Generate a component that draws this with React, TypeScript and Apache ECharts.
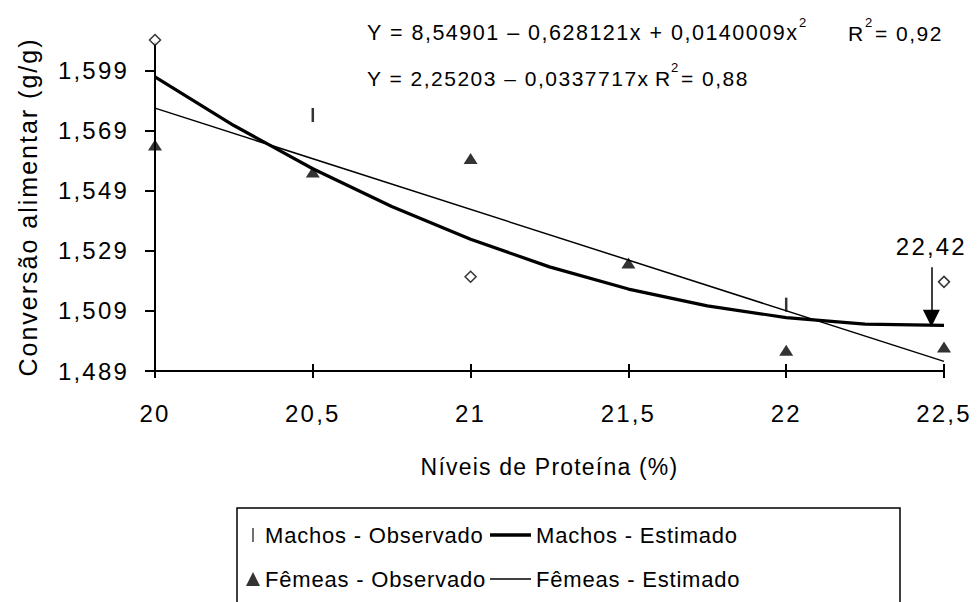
import { useEffect, useRef } from 'react';
import * as echarts from 'echarts';

const Y_TICK_VALUES = [1.489, 1.509, 1.529, 1.549, 1.569, 1.589];
const Y_TICK_LABELS = ['1,489', '1,509', '1,529', '1,549', '1,569', '1,599'];

const MACHOS_OBS_X = [20, 20.5, 21, 22, 22.5];
const MACHOS_OBS_Y = [1.5993, 1.5743, 1.5204, 1.5111, 1.5187];
const MACHOS_OBS_MARK = ['diamond', 'bar', 'diamond', 'bar', 'diamond'];

const FEMEAS_OBS_X = [20, 20.5, 21, 21.5, 22, 22.5];
const FEMEAS_OBS_Y = [1.5643, 1.5553, 1.5598, 1.525, 1.4959, 1.497];

const MACHOS_EST_X = [20, 20.25, 20.5, 20.75, 21, 21.25, 21.5, 21.75, 22, 22.25, 22.5];
const MACHOS_EST_Y = [1.587, 1.5708, 1.5564, 1.5438, 1.5329, 1.5237, 1.5163, 1.5107, 1.5068, 1.5046, 1.5042];

const FEMEAS_EST_X = [20, 22.5];
const FEMEAS_EST_Y = [1.5766, 1.4922];

const OPTIMUM_X = 22.46;
const OPTIMUM_Y_TOP = 1.5236;
const OPTIMUM_Y_TIP = 1.5066;
const OPTIMUM_LABEL = '22,42';

const SERIES_NAMES = ['Machos - Observado', 'Machos - Estimado', 'Fêmeas - Observado', 'Fêmeas - Estimado'];
const EQ1 = 'Y = 8,54901 – 0,628121x + 0,0140009x';
const EQ1_R2 = '= 0,92';
const EQ2 = 'Y = 2,25203 – 0,0337717x';
const EQ2_R2 = '= 0,88';
const X_NAME = 'Níveis de Proteína (%)';
const Y_NAME = 'Conversão alimentar (g/g)';

const FONT = '"Liberation Sans", Arial, sans-serif';
const BAR_SYMBOL = 'path://M0,0 L1,0 L1,10 L0,10 Z';

const CSS = `
#chart-root text { letter-spacing: 0px; }
#chart-root text[style*="24px"] { letter-spacing: 2.2px; }
#chart-root text[style*="21px"] { letter-spacing: 1.5px; }
#chart-root text[style*="21.5px"] { letter-spacing: 1.5px; }
#chart-root text[style*="22px"] { letter-spacing: 0.8px; }
#chart-root text[style*="23px"] { letter-spacing: 1.2px; }
#chart-root text[style*="25px"] { letter-spacing: 2px; }
`;

export default function App() {
  const ref = useRef<HTMLDivElement>(null);
  useEffect(() => {
    if (!ref.current) return;
    const chart = echarts.init(ref.current, undefined, { renderer: 'svg' });
    const fmtX = (v: number) => String(v).replace('.', ',');
    const fmtY = (v: number) => {
      let best = 0;
      Y_TICK_VALUES.forEach((t, i) => {
        if (Math.abs(t - v) < Math.abs(Y_TICK_VALUES[best] - v)) best = i;
      });
      return Y_TICK_LABELS[best];
    };
    const machosObs = MACHOS_OBS_X.map((x, i) => {
      if (MACHOS_OBS_MARK[i] === 'diamond') {
        return {
          value: [x, MACHOS_OBS_Y[i]],
          symbol: 'diamond',
          symbolSize: [11, 11],
          itemStyle: { color: '#fff', borderColor: '#000', borderWidth: 1.5 },
        };
      }
      return { value: [x, MACHOS_OBS_Y[i]] };
    });
    const baseX = {
      type: 'value' as const,
      min: 20,
      max: 22.5,
      interval: 0.5,
      splitLine: { show: false },
    };
    const legendText = { fontSize: 22, color: '#000', fontFamily: FONT };
    const t = (x: number, y: number, text: string, size: number) => ({
      type: 'text',
      x,
      y,
      silent: true,
      style: { text, font: `${size}px ${FONT}`, fill: '#000', verticalAlign: 'middle' },
    });
    chart.setOption({
      animation: false,
      textStyle: { fontFamily: FONT, color: '#000' },
      grid: { left: 155, right: 33, top: 43, bottom: 231 },
      xAxis: [
        {
          ...baseX,
          name: X_NAME,
          nameLocation: 'middle',
          nameGap: 84,
          nameTextStyle: { fontSize: 23, color: '#000', fontFamily: FONT },
          axisLine: { show: true, onZero: false, lineStyle: { color: '#000', width: 2 } },
          axisTick: { show: true, length: 7, lineStyle: { color: '#000', width: 2 } },
          axisLabel: { show: true, formatter: fmtX, fontSize: 24, color: '#000', margin: 30, fontFamily: FONT },
        },
        {
          ...baseX,
          position: 'bottom',
          axisLine: { show: false },
          axisTick: { show: true, inside: true, length: 7, lineStyle: { color: '#000', width: 2 } },
          axisLabel: { show: false },
        },
      ],
      yAxis: {
        type: 'value',
        min: 1.489,
        max: 1.5983,
        splitLine: { show: false },
        name: Y_NAME,
        nameLocation: 'middle',
        nameGap: 115,
        nameTextStyle: { fontSize: 25, color: '#000', fontFamily: FONT },
        axisLine: { show: true, onZero: false, lineStyle: { color: '#000', width: 2 } },
        axisTick: { show: true, length: 10, customValues: Y_TICK_VALUES, lineStyle: { color: '#000', width: 2 } },
        axisLabel: {
          show: true,
          customValues: Y_TICK_VALUES,
          formatter: fmtY,
          fontSize: 24,
          color: '#000',
          margin: 26,
          fontFamily: FONT,
        },
      },
      legend: [
        {
          orient: 'vertical',
          left: 246,
          top: 524,
          itemWidth: 14,
          itemHeight: 14,
          itemGap: 22,
          padding: 0,
          textStyle: legendText,
          data: [SERIES_NAMES[0], SERIES_NAMES[2]],
        },
        {
          orient: 'vertical',
          left: 490,
          top: 524,
          itemWidth: 41,
          itemHeight: 3.5,
          padding: 0,
          textStyle: legendText,
          data: [{ name: SERIES_NAMES[1], icon: 'rect' }],
        },
        {
          orient: 'vertical',
          left: 490,
          top: 568,
          itemWidth: 41,
          itemHeight: 1.5,
          padding: 0,
          textStyle: legendText,
          data: [{ name: SERIES_NAMES[3], icon: 'rect' }],
        },
      ],
      graphic: [
        {
          type: 'rect',
          silent: true,
          shape: { x: 237, y: 508, width: 663, height: 200 },
          style: { fill: 'none', stroke: '#000', lineWidth: 1.5 },
        },
        t(367, 33, EQ1, 21.5),
        t(799, 22, '2', 13),
        t(848, 33, 'R', 21),
        t(865, 22, '2', 13),
        t(875, 33, EQ1_R2, 21),
        t(367, 78, EQ2, 21),
        t(655, 78, 'R', 21),
        t(671, 67, '2', 13),
        t(681, 78, EQ2_R2, 21),
      ],
      series: [
        {
          name: SERIES_NAMES[0],
          type: 'scatter',
          clip: false,
          symbol: BAR_SYMBOL,
          symbolSize: [2.5, 14],
          itemStyle: { color: '#000' },
          data: machosObs,
          z: 5,
        },
        {
          name: SERIES_NAMES[1],
          type: 'line',
          clip: false,
          symbol: 'none',
          showSymbol: false,
          lineStyle: { color: '#000', width: 3.2 },
          itemStyle: { color: '#000' },
          data: MACHOS_EST_X.map((x, i) => [x, MACHOS_EST_Y[i]]),
          markLine: {
            silent: true,
            symbol: ['none', 'triangle'],
            symbolSize: 17,
            lineStyle: { color: '#000', width: 1.5, type: 'solid' },
            itemStyle: { color: '#000' },
            label: {
              show: true,
              position: 'start',
              formatter: OPTIMUM_LABEL,
              fontSize: 24,
              color: '#000',
              fontFamily: FONT,
              distance: 9,
            },
            data: [[{ coord: [OPTIMUM_X, OPTIMUM_Y_TOP] }, { coord: [OPTIMUM_X, OPTIMUM_Y_TIP] }]],
          },
        },
        {
          name: SERIES_NAMES[2],
          type: 'scatter',
          clip: false,
          symbol: 'triangle',
          symbolSize: [14, 11],
          itemStyle: { color: '#000' },
          data: FEMEAS_OBS_X.map((x, i) => [x, FEMEAS_OBS_Y[i]]),
          z: 5,
        },
        {
          name: SERIES_NAMES[3],
          type: 'line',
          clip: false,
          symbol: 'none',
          showSymbol: false,
          lineStyle: { color: '#000', width: 1.5 },
          itemStyle: { color: '#000' },
          data: FEMEAS_EST_X.map((x, i) => [x, FEMEAS_EST_Y[i]]),
        },
      ],
    });
    return () => chart.dispose();
  }, []);
  return (
    <div>
      <style>{CSS}</style>
      <div
        id="chart-root"
        ref={ref}
        style={{ position: 'fixed', left: 0, top: 0, width: 977, height: 602, background: '#fff' }}
      />
    </div>
  );
}
